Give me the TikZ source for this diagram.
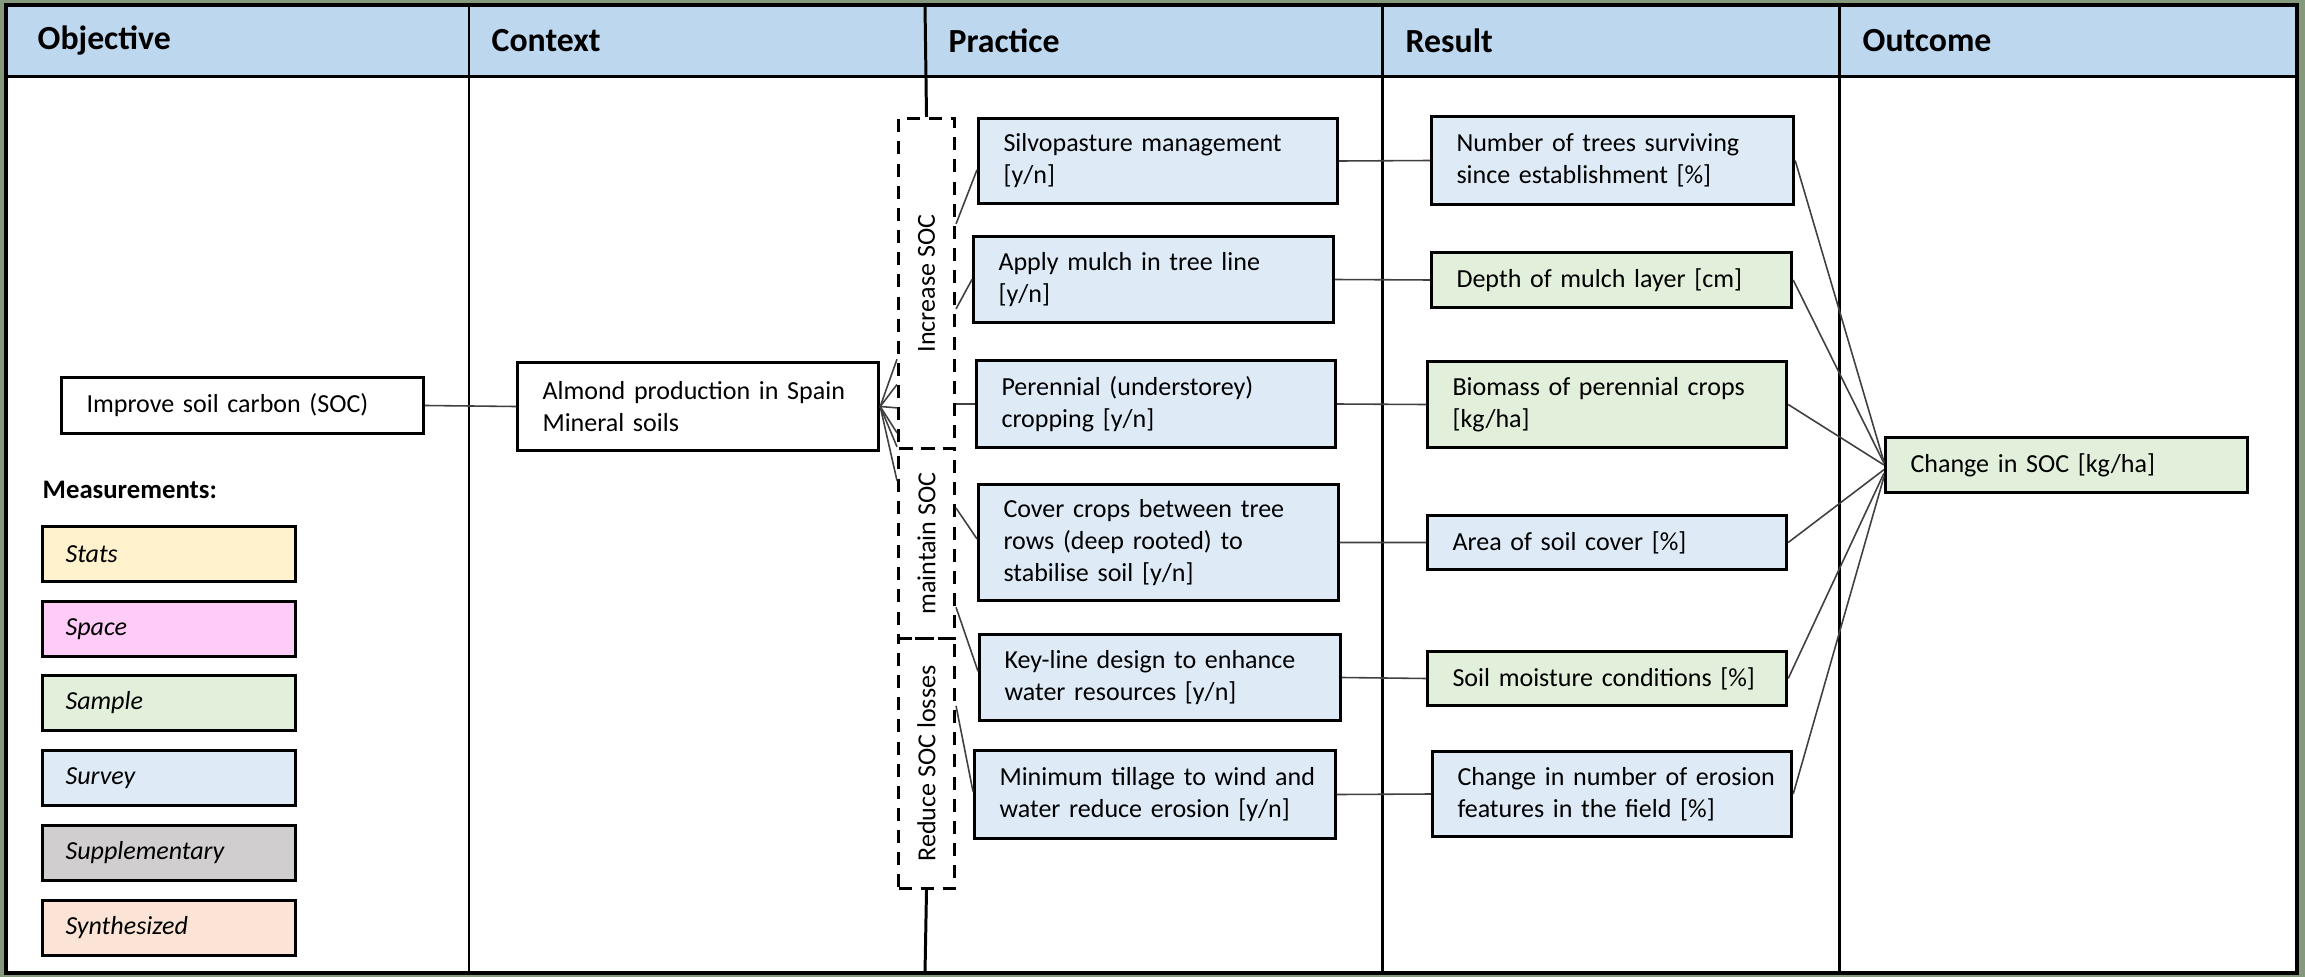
\documentclass[tikz,border=0pt]{standalone}
\usepackage{fontspec}
\setmainfont{Carlito}
\usetikzlibrary{calc}
\definecolor{bggreen}{HTML}{85997D}
\definecolor{hdrblue}{HTML}{BDD7EE}
\definecolor{survey}{HTML}{DEEBF7}
\definecolor{sample}{HTML}{E2EFDA}
\definecolor{stats}{HTML}{FFF2CC}
\definecolor{spacec}{HTML}{FFCCF7}
\definecolor{suppl}{HTML}{D0CECE}
\definecolor{synth}{HTML}{FBE4D5}
\definecolor{conn}{HTML}{404040}
\newcommand\mlin[1]{\mbox{#1}}
\begin{document}
\begin{tikzpicture}[x=0.01cm, y=-0.01cm,
  box/.style={draw=black, line width=0.85pt, rectangle, anchor=north west,
    inner xsep=0.25cm, inner ysep=0pt, align=left,
    font=\fontsize{7.4}{9.1}\selectfont},
  leg/.style={box, inner xsep=0.23cm, minimum width=2.53cm, text width=2.07cm,
    minimum height=0.55cm, font=\fontsize{7.4}{9.1}\selectfont\itshape},
  grp/.style={draw=black, line width=0.85pt, dash pattern=on 3.7pt off 2.6pt,
    rectangle, anchor=north west, minimum width=0.56cm, inner sep=0pt},
  grplbl/.style={font=\fontsize{7.4}{9.1}\selectfont, inner sep=0pt},
  hdr/.style={anchor=west, inner sep=0pt, font=\fontsize{9.6}{11}\selectfont\bfseries},
  cn/.style={draw=conn, line width=0.45pt},
  rule/.style={draw=black, line width=0.85pt}]
\useasboundingbox (0,0) rectangle (2305,977);
\fill[bggreen] (0,0) rectangle (2305,977);
\fill[white] (6,5) rectangle (2297,973);
\fill[hdrblue] (6,5) rectangle (2297,77);
\draw[rule] (6,77) -- (2297,77);

% header labels
\node[hdr] (hobj) at (37,41) {Objective};
\node[hdr] (hctx) at (491,41) {Context};
\node[hdr] (hpra) at (948,41) {Practice};
\node[hdr] (hres) at (1405,41) {Result};
\node[hdr] (hout) at (1862,41) {Outcome};

% column rules
\draw[rule] (469,5) -- (469,973);
\draw[rule] (1382,5) -- (1382,973);
\draw[rule] (1839,5) -- (1839,973);

% objective
\node[box, minimum width=3.62cm, text width=3.12cm, minimum height=0.56cm] (imp) at (60,376) {\mlin{Improve soil carbon (SOC)}};
\node[anchor=west, inner sep=0pt, font=\fontsize{7.6}{9}\selectfont\bfseries] (meas) at (42,490) {Measurements:};
\node[leg, fill=stats] (lstats) at (41,525) {Stats};
\node[leg, fill=spacec] (lspace) at (41,600) {Space};
\node[leg, fill=sample] (lsample) at (41,674) {Sample};
\node[leg, fill=survey] (lsurvey) at (41,749) {Survey};
\node[leg, fill=suppl] (lsuppl) at (41,824) {Supplementary};
\node[leg, fill=synth] (lsynth) at (41,899) {Synthesized};

% context
\node[box, minimum width=3.61cm, text width=3.11cm, minimum height=0.88cm] (alm) at (516,361) {\mlin{Almond production in Spain}\\\mlin{Mineral soils}};

% practice groups
\node[grp, minimum height=3.30cm, label={[grplbl, rotate=90]center:Increase SOC}] (inc) at (897,117) {};
\node[grp, minimum height=1.90cm, label={[grplbl, rotate=90]center:maintain SOC}] (mnt) at (897,447) {};
\node[grp, minimum height=2.50cm, label={[grplbl, rotate=90]center:Reduce SOC losses}] (red) at (897,637) {};
\coordinate (ptop) at (925,5);
\coordinate (pbot) at (925,973);
\draw[rule] (ptop) -- (inc.north);
\draw[rule] (red.south) -- (pbot);

% practice boxes
\node[box, fill=survey, minimum width=3.59cm, text width=3.09cm, minimum height=0.85cm] (silvo) at (977,117) {\mlin{Silvopasture management}\\\mlin{[y/n]}};
\node[box, fill=survey, minimum width=3.60cm, text width=3.10cm, minimum height=0.86cm] (mulch) at (972,235) {\mlin{Apply mulch in tree line}\\\mlin{[y/n]}};
\node[box, fill=survey, minimum width=3.59cm, text width=3.09cm, minimum height=0.87cm] (per) at (975,359) {\mlin{Perennial (understorey)}\\\mlin{cropping [y/n]}};
\node[box, fill=survey, minimum width=3.60cm, text width=3.10cm, minimum height=1.16cm] (cov) at (977,483) {\mlin{Cover crops between tree}\\\mlin{rows (deep rooted) to}\\\mlin{stabilise soil [y/n]}};
\node[box, fill=survey, minimum width=3.61cm, text width=3.11cm, minimum height=0.86cm] (key) at (978,633) {\mlin{Key-line design to enhance}\\\mlin{water resources [y/n]}};
\node[box, fill=survey, minimum width=3.61cm, text width=3.11cm, minimum height=0.88cm] (till) at (973,749) {\mlin{Minimum tillage to wind and}\\\mlin{water reduce erosion [y/n]}};

% result boxes
\node[box, fill=survey, minimum width=3.62cm, text width=3.12cm, minimum height=0.88cm] (trees) at (1430,115) {\mlin{Number of trees surviving}\\\mlin{since establishment [\%]}};
\node[box, fill=sample, minimum width=3.60cm, text width=3.10cm, minimum height=0.55cm] (depth) at (1430,251) {\mlin{Depth of mulch layer [cm]}};
\node[box, fill=sample, minimum width=3.59cm, text width=3.09cm, minimum height=0.86cm] (bio) at (1426,360) {\mlin{Biomass of perennial crops}\\\mlin{[kg/ha]}};
\node[box, fill=survey, minimum width=3.59cm, text width=3.09cm, minimum height=0.54cm] (area) at (1426,514) {\mlin{Area of soil cover [\%]}};
\node[box, fill=sample, minimum width=3.59cm, text width=3.09cm, minimum height=0.54cm] (moist) at (1426,650) {\mlin{Soil moisture conditions [\%]}};
\node[box, fill=survey, minimum width=3.59cm, text width=3.09cm, minimum height=0.85cm] (eros) at (1431,750) {\mlin{Change in number of erosion}\\\mlin{features in the field [\%]}};

% outcome
\node[box, fill=sample, minimum width=3.62cm, text width=3.12cm, minimum height=0.55cm] (out) at (1884,436) {\mlin{Change in SOC [kg/ha]}};

% connectors
\draw[cn] (imp.east) -- (alm.west);
\draw[cn] (alm.east) -- ($(inc.north west)!0.727!(inc.south west)$);
\draw[cn] (alm.east) -- ($(inc.north west)!0.803!(inc.south west)$);
\draw[cn] (alm.east) -- ($(inc.north west)!0.873!(inc.south west)$);
\draw[cn] (alm.east) -- ($(inc.north west)!0.948!(inc.south west)$);
\draw[cn] (alm.east) -- ($(inc.north west)!0.99!(inc.south west)$);
\draw[cn] (alm.east) -- ($(mnt.north west)!0.174!(mnt.south west)$);

\draw[cn] ($(inc.north east)!0.321!(inc.south east)$) -- ($(silvo.north west)!0.6!(silvo.south west)$);
\draw[cn] ($(inc.north east)!0.576!(inc.south east)$) -- (mulch.west);
\draw[cn] (per.west) -- (per.west -| inc.east);
\draw[cn] ($(mnt.north east)!0.316!(mnt.south east)$) -- ($(cov.north west)!0.47!(cov.south west)$);
\draw[cn] ($(mnt.north east)!0.83!(mnt.south east)$) -- ($(key.north west)!0.43!(key.south west)$);
\draw[cn] ($(red.north east)!0.272!(red.south east)$) -- ($(till.north west)!0.466!(till.south west)$);

\draw[cn] (silvo.east) -- (trees.west);
\draw[cn] (mulch.east) -- (depth.west);
\draw[cn] (per.east) -- (bio.west);
\draw[cn] (cov.east) -- (area.west);
\draw[cn] (key.east) -- (moist.west);
\draw[cn] (till.east) -- (eros.west);

\draw[cn] (trees.east) -- ($(out.north west)!0.45!(out.south west)$);
\draw[cn] (depth.east) -- ($(out.north west)!0.47!(out.south west)$);
\draw[cn] (bio.east) -- ($(out.north west)!0.5!(out.south west)$);
\draw[cn] (area.east) -- ($(out.north west)!0.58!(out.south west)$);
\draw[cn] (moist.east) -- ($(out.north west)!0.64!(out.south west)$);
\draw[cn] (eros.east) -- ($(out.north west)!0.7!(out.south west)$);

% table frame
\draw[draw=black, line width=1.2pt] (6,5) rectangle (2297,973);
\end{tikzpicture}
\end{document}
